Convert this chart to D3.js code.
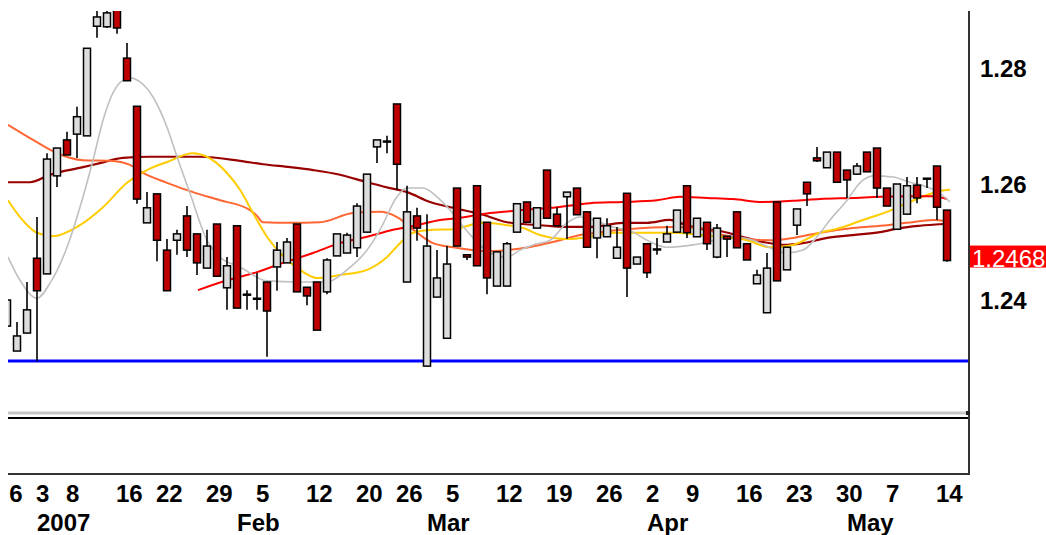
<!DOCTYPE html>
<html>
<head>
<meta charset="utf-8">
<script src="https://cdn.jsdelivr.net/npm/d3@7"></script>
<style>
  body { margin: 0; background: #fff; }
  svg { display: block; }
  text { font-family: "Liberation Sans", Arial, sans-serif; }
</style>
</head>
<body>
<div id="chart"></div>
<script>
// trading days shown on the chart
const dates = [
  "2006-12-26","2006-12-27","2006-12-28","2006-12-29","2007-01-03","2007-01-04","2007-01-05",
  "2007-01-08","2007-01-09","2007-01-10","2007-01-11","2007-01-12","2007-01-16","2007-01-17",
  "2007-01-18","2007-01-19","2007-01-22","2007-01-23","2007-01-24","2007-01-25","2007-01-26",
  "2007-01-29","2007-01-30","2007-01-31","2007-02-01","2007-02-02","2007-02-05","2007-02-06",
  "2007-02-07","2007-02-08","2007-02-09","2007-02-12","2007-02-13","2007-02-14","2007-02-15",
  "2007-02-16","2007-02-20","2007-02-21","2007-02-22","2007-02-23","2007-02-26","2007-02-27",
  "2007-02-28","2007-03-01","2007-03-02","2007-03-05","2007-03-06","2007-03-07","2007-03-08",
  "2007-03-09","2007-03-12","2007-03-13","2007-03-14","2007-03-15","2007-03-16","2007-03-19",
  "2007-03-20","2007-03-21","2007-03-22","2007-03-23","2007-03-26","2007-03-27","2007-03-28",
  "2007-03-29","2007-03-30","2007-04-02","2007-04-03","2007-04-04","2007-04-05","2007-04-09",
  "2007-04-10","2007-04-11","2007-04-12","2007-04-13","2007-04-16","2007-04-17","2007-04-18",
  "2007-04-19","2007-04-20","2007-04-23","2007-04-24","2007-04-25","2007-04-26","2007-04-27",
  "2007-04-30","2007-05-01","2007-05-02","2007-05-03","2007-05-04","2007-05-07","2007-05-08",
  "2007-05-09","2007-05-10","2007-05-11","2007-05-14"
];

const opens = [
  1.2355,1.2312,1.2343,1.2472,1.2445,1.2614,1.2676,1.2686,1.2683,1.2872,1.2871,1.2905,1.2817,1.2734,
  1.2533,1.2583,1.2486,1.2503,1.2545,1.2514,1.2455,1.2531,1.2421,1.2528,1.2410,1.2403,1.2431,1.2457,
  1.2464,1.2531,1.2422,1.2431,1.2414,1.2476,1.2481,1.2490,1.2517,1.2664,1.2674,1.2738,1.2431,1.2545,
  1.2286,1.2405,1.2334,1.2593,1.2478,1.2597,1.2534,1.2424,1.2424,1.2517,1.2569,1.2524,1.2624,1.2548,
  1.2578,1.2593,1.2552,1.2507,1.2509,1.2472,1.2584,1.2462,1.2497,1.2488,1.2500,1.2517,1.2597,1.2509,
  1.2534,1.2474,1.2510,1.2552,1.2497,1.2428,1.2378,1.2569,1.2452,1.2529,1.2603,1.2645,1.2628,1.2655,
  1.2624,1.2617,1.2655,1.2662,1.2593,1.2522,1.2548,1.2598,1.2610,1.2631,1.2555
];
const highs = [
  1.2400,1.2362,1.2431,1.2543,1.2653,1.2662,1.2690,1.2733,1.2834,1.2900,1.2905,1.2915,1.2843,1.2734,
  1.2586,1.2583,1.2505,1.2521,1.2562,1.2514,1.2521,1.2531,1.2474,1.2528,1.2417,1.2447,1.2431,1.2500,
  1.2507,1.2531,1.2422,1.2431,1.2472,1.2514,1.2516,1.2567,1.2617,1.2676,1.2683,1.2738,1.2597,1.2559,
  1.2548,1.2486,1.2493,1.2593,1.2478,1.2597,1.2534,1.2483,1.2500,1.2566,1.2569,1.2559,1.2624,1.2560,
  1.2586,1.2593,1.2552,1.2541,1.2541,1.2526,1.2584,1.2474,1.2497,1.2507,1.2528,1.2555,1.2597,1.2541,
  1.2534,1.2531,1.2510,1.2552,1.2497,1.2452,1.2481,1.2569,1.2491,1.2557,1.2603,1.2664,1.2655,1.2655,
  1.2624,1.2636,1.2655,1.2662,1.2593,1.2600,1.2612,1.2612,1.2610,1.2631,1.2555
];
const lows = [
  1.2353,1.2312,1.2343,1.2295,1.2445,1.2595,1.2650,1.2645,1.2683,1.2852,1.2869,1.2859,1.2778,1.2566,
  1.2533,1.2467,1.2416,1.2478,1.2474,1.2443,1.2455,1.2441,1.2383,1.2386,1.2383,1.2383,1.2302,1.2416,
  1.2464,1.2414,1.2391,1.2348,1.2410,1.2476,1.2481,1.2474,1.2517,1.2636,1.2653,1.2590,1.2431,1.2502,
  1.2286,1.2405,1.2334,1.2493,1.2469,1.2459,1.2410,1.2424,1.2424,1.2517,1.2534,1.2524,1.2541,1.2528,
  1.2505,1.2547,1.2491,1.2472,1.2509,1.2472,1.2405,1.2462,1.2438,1.2478,1.2500,1.2517,1.2507,1.2509,
  1.2486,1.2472,1.2474,1.2490,1.2469,1.2428,1.2378,1.2433,1.2452,1.2512,1.2562,1.2638,1.2628,1.2603,
  1.2576,1.2616,1.2621,1.2576,1.2562,1.2522,1.2548,1.2567,1.2593,1.2538,1.2466
];
const closes = [
  1.2400,1.2338,1.2383,1.2416,1.2643,1.2662,1.2650,1.2716,1.2834,1.2888,1.2895,1.2869,1.2778,1.2574,
  1.2559,1.2503,1.2416,1.2514,1.2486,1.2464,1.2493,1.2441,1.2459,1.2386,1.2410,1.2403,1.2381,1.2486,
  1.2500,1.2414,1.2407,1.2348,1.2469,1.2514,1.2512,1.2562,1.2617,1.2676,1.2674,1.2634,1.2552,1.2524,
  1.2493,1.2438,1.2462,1.2493,1.2474,1.2459,1.2438,1.2483,1.2497,1.2566,1.2534,1.2559,1.2541,1.2528,
  1.2586,1.2547,1.2491,1.2541,1.2528,1.2491,1.2455,1.2474,1.2447,1.2488,1.2514,1.2555,1.2516,1.2541,
  1.2497,1.2524,1.2505,1.2490,1.2469,1.2443,1.2455,1.2433,1.2491,1.2557,1.2583,1.2640,1.2655,1.2603,
  1.2607,1.2631,1.2621,1.2593,1.2562,1.2600,1.2597,1.2576,1.2610,1.2560,1.2468
];

// average lines as [day index, price]
const maGray = [
  [0.1,1.2474],[1.3,1.2434],[3.0,1.2403],[4.3,1.2429],[6.0,1.2491],[7.3,1.2560],[8.6,1.2641],
  [9.6,1.2710],[10.6,1.2757],[11.6,1.2779],[12.3,1.2783],[13.3,1.2776],[14.6,1.2750],[16.0,1.2698],
  [17.0,1.2647],[18.3,1.2584],[20.0,1.2503],[21.3,1.2474],[23.3,1.2457],[26.0,1.2433],[29.3,1.2431],
  [32.0,1.2431],[34.0,1.2452],[36.0,1.2486],[37.3,1.2521],[39.0,1.2578],[40.0,1.2593],[41.6,1.2593],
  [43.0,1.2578],[44.3,1.2555],[45.3,1.2533],[47.0,1.2500],[48.3,1.2481],[50.0,1.2474],[51.3,1.2486],
  [52.6,1.2495],[54.3,1.2503],[56.0,1.2533],[57.3,1.2543],[58.6,1.2538],[60.6,1.2526],[62.6,1.2517],
  [64.0,1.2503],[66.0,1.2491],[68.6,1.2495],[70.6,1.2502],[72.6,1.2509],[74.6,1.2503],[76.3,1.2490],
  [78.0,1.2481],[79.6,1.2486],[81.0,1.2509],[82.3,1.2538],[84.0,1.2572],[85.3,1.2602],[86.6,1.2614],
  [88.6,1.2612],[90.3,1.2603],[92.0,1.2595],[93.3,1.2584],[94.3,1.2569]
];
const maYellow = [
  [0.1,1.2572],[1.3,1.2543],[3.0,1.2516],[4.6,1.2510],[7.0,1.2526],[9.6,1.2560],[12.0,1.2602],
  [14.0,1.2624],[16.0,1.2638],[18.6,1.2653],[20.0,1.2647],[22.0,1.2619],[23.3,1.2590],[24.6,1.2550],
  [26.0,1.2509],[27.3,1.2481],[29.3,1.2452],[31.0,1.2438],[33.3,1.2443],[36.0,1.2452],[38.0,1.2474],
  [39.3,1.2498],[40.6,1.2516],[42.6,1.2521],[44.6,1.2522],[47.6,1.2533],[50.0,1.2529],[51.6,1.2524],
  [53.3,1.2512],[56.0,1.2505],[58.3,1.2509],[60.6,1.2516],[63.3,1.2516],[66.6,1.2516],[69.3,1.2512],
  [71.3,1.2509],[74.0,1.2503],[76.3,1.2491],[78.6,1.2495],[81.3,1.2516],[83.3,1.2524],[85.6,1.2538],
  [88.0,1.2552],[90.0,1.2567],[92.0,1.2581],[93.3,1.2588],[94.3,1.2590]
];
const maOrange = [
  [0.1,1.2702],[2.6,1.2676],[5.0,1.2653],[7.6,1.2641],[10.3,1.2640],[12.3,1.2633],[13.6,1.2619],
  [16.0,1.2602],[18.6,1.2586],[21.3,1.2572],[24.3,1.2555],[25.0,1.2545],[25.6,1.2534],[28.3,1.2533],
  [31.3,1.2534],[34.6,1.2550],[37.3,1.2552],[39.0,1.2543],[41.0,1.2516],[42.6,1.2498],[44.6,1.2491],
  [48.3,1.2484],[51.0,1.2488],[53.3,1.2495],[55.3,1.2503],[57.3,1.2512],[59.3,1.2517],[62.0,1.2522],
  [66.6,1.2526],[69.3,1.2524],[71.6,1.2512],[74.0,1.2505],[76.3,1.2503],[78.6,1.2507],[81.3,1.2516],
  [84.6,1.2524],[88.0,1.2529],[90.0,1.2533],[92.6,1.2538],[94.0,1.2536]
];
const maRed = [
  [19.1,1.2417],[22.0,1.2434],[25.0,1.2448],[27.6,1.2464],[30.6,1.2481],[33.3,1.2498],[36.0,1.2509],
  [38.6,1.2521],[41.0,1.2529],[43.3,1.2538],[45.0,1.2541],[48.3,1.2550],[51.6,1.2555],[55.0,1.2560],
  [58.3,1.2567],[61.6,1.2569],[65.0,1.2572],[67.3,1.2578],[70.0,1.2576],[72.6,1.2574],[75.6,1.2569],
  [78.6,1.2571],[81.3,1.2574],[84.6,1.2576],[87.3,1.2578],[90.0,1.2579],[92.6,1.2579],[94.0,1.2574]
];
const maMaroon = [
  [0.1,1.2603],[2.3,1.2603],[4.3,1.2616],[7.6,1.2629],[9.3,1.2636],[11.6,1.2645],[14.3,1.2647],
  [19.3,1.2647],[23.3,1.2640],[25.6,1.2634],[28.3,1.2629],[30.6,1.2624],[33.3,1.2616],[36.0,1.2603],
  [38.3,1.2593],[40.0,1.2586],[42.3,1.2569],[44.6,1.2559],[47.6,1.2547],[50.0,1.2534],[51.6,1.2531],
  [54.0,1.2528],[56.6,1.2526],[58.3,1.2526],[61.6,1.2533],[64.0,1.2533],[66.3,1.2538],[67.3,1.2533],
  [68.6,1.2526],[70.0,1.2521],[71.3,1.2519],[73.3,1.2510],[75.6,1.2500],[78.0,1.2495],[79.6,1.2498],
  [82.0,1.2507],[84.6,1.2512],[87.3,1.2517],[89.3,1.2524],[91.3,1.2528],[93.6,1.2531]
];

const supportLevel = 1.2295;
const priceTicks = [1.24, 1.26, 1.28];
const dayTicks = [
  "2006-12-26","2007-01-03","2007-01-08","2007-01-16","2007-01-22","2007-01-29","2007-02-05",
  "2007-02-12","2007-02-20","2007-02-26","2007-03-05","2007-03-12","2007-03-19","2007-03-26",
  "2007-04-02","2007-04-09","2007-04-16","2007-04-23","2007-04-30","2007-05-07","2007-05-14"
];
const monthTicks = ["2007-01-03","2007-02-01","2007-03-01","2007-04-02","2007-05-01"];
const monthLabels = ["2007","Feb","Mar","Apr","May"];

const WIDTH = 1046, HEIGHT = 535;
const plot = { left: 8, right: 969, top: 11, bottom: 413 };
const lowerPane = { top: 418, bottom: 474 };

const svg = d3.select("#chart").append("svg")
  .attr("width", WIDTH)
  .attr("height", HEIGHT);

svg.append("rect").attr("width", WIDTH).attr("height", HEIGHT).attr("fill", "#fff");

const x = d3.scaleLinear().domain([0, dates.length - 1]).range([7, 947]);
const y = d3.scaleLinear().domain([1.24, 1.28]).range([300, 68]);
const dayIndex = d => dates.indexOf(d);

const defs = svg.append("defs");
defs.append("clipPath").attr("id", "plotClip")
  .append("rect")
  .attr("x", plot.left).attr("y", plot.top)
  .attr("width", plot.right - plot.left).attr("height", plot.bottom - plot.top);
defs.append("clipPath").attr("id", "labelClip")
  .append("rect")
  .attr("x", 9).attr("y", 0)
  .attr("width", WIDTH - 9).attr("height", HEIGHT);

const plotG = svg.append("g").attr("clip-path", "url(#plotClip)");

// support line
plotG.append("line")
  .attr("x1", plot.left).attr("x2", plot.right)
  .attr("y1", y(supportLevel)).attr("y2", y(supportLevel))
  .attr("stroke", "#0000ff")
  .attr("stroke-width", 3);

// moving averages
const line = d3.line()
  .curve(d3.curveMonotoneX)
  .x(d => x(d[0]))
  .y(d => y(d[1]));

const averages = [
  { data: maMaroon, color: "#990000", width: 2.2 },
  { data: maOrange, color: "#ff6633", width: 2 },
  { data: maYellow, color: "#ffcc00", width: 2 },
  { data: maRed, color: "#ff0000", width: 2 },
  { data: maGray, color: "#c0c0c0", width: 1.6 }
];

plotG.append("g")
  .selectAll("path")
  .data(averages)
  .join("path")
  .attr("d", d => line(d.data))
  .attr("fill", "none")
  .attr("stroke", d => d.color)
  .attr("stroke-width", d => d.width);

// candles
const candles = dates.map((d, i) => ({
  i: i, open: opens[i], high: highs[i], low: lows[i], close: closes[i]
}));

const candleG = plotG.append("g")
  .selectAll("g")
  .data(candles)
  .join("g");

candleG.append("line")
  .attr("x1", d => x(d.i)).attr("x2", d => x(d.i))
  .attr("y1", d => y(d.high)).attr("y2", d => y(d.low))
  .attr("stroke", "#000")
  .attr("stroke-width", 1.6);

candleG.append("rect")
  .attr("x", d => x(d.i) - 3.5)
  .attr("width", 7)
  .attr("y", d => y(Math.max(d.open, d.close)))
  .attr("height", d => Math.max(1, Math.abs(y(d.open) - y(d.close))))
  .attr("fill", d => d.close >= d.open ? "#dcdcdc" : "#c00000")
  .attr("stroke", "#000")
  .attr("stroke-width", 1.5);

// pane frame
svg.append("line")
  .attr("x1", plot.left).attr("x2", plot.right)
  .attr("y1", plot.bottom).attr("y2", plot.bottom)
  .attr("stroke", "#c8c8c8").attr("stroke-width", 3);
svg.append("line")
  .attr("x1", plot.left).attr("x2", plot.right)
  .attr("y1", lowerPane.top).attr("y2", lowerPane.top)
  .attr("stroke", "#000").attr("stroke-width", 2);
svg.append("line")
  .attr("x1", plot.left).attr("x2", plot.right + 1)
  .attr("y1", lowerPane.bottom).attr("y2", lowerPane.bottom)
  .attr("stroke", "#333").attr("stroke-width", 2);
svg.append("line")
  .attr("x1", plot.right).attr("x2", plot.right)
  .attr("y1", plot.top).attr("y2", lowerPane.bottom + 1)
  .attr("stroke", "#333").attr("stroke-width", 2);
svg.append("rect")
  .attr("x", plot.right - 3).attr("y", plot.bottom - 2)
  .attr("width", 4).attr("height", 4)
  .attr("fill", "#222");

// price axis
svg.append("g")
  .selectAll("text")
  .data(priceTicks)
  .join("text")
  .attr("x", 980)
  .attr("y", d => y(d) + 9)
  .attr("font-size", 24)
  .attr("font-weight", "bold")
  .attr("fill", "#000")
  .text(d => d3.format(".2f")(d));

// last price marker
const lastClose = closes[closes.length - 1];
svg.append("rect")
  .attr("x", 970).attr("y", y(lastClose) - 15)
  .attr("width", 80).attr("height", 22)
  .attr("fill", "#ff0000");
svg.append("text")
  .attr("x", 972)
  .attr("y", y(lastClose) + 6)
  .attr("font-size", 24)
  .attr("fill", "#fff")
  .text(d3.format(".4f")(lastClose));

// date axis
const fmtDay = d3.timeFormat("%-d");
const parse = d3.timeParse("%Y-%m-%d");
const dateAxis = svg.append("g").attr("clip-path", "url(#labelClip)");

dateAxis.selectAll("text.day")
  .data(dayTicks)
  .join("text")
  .attr("class", "day")
  .attr("x", d => x(dayIndex(d)) - 11)
  .attr("y", 502)
  .attr("font-size", 24)
  .attr("font-weight", "bold")
  .attr("fill", "#000")
  .text(d => fmtDay(parse(d)));

dateAxis.selectAll("text.month")
  .data(monthTicks)
  .join("text")
  .attr("class", "month")
  .attr("x", d => x(dayIndex(d)) - 10)
  .attr("y", 531)
  .attr("font-size", 24)
  .attr("font-weight", "bold")
  .attr("fill", "#000")
  .text((d, i) => monthLabels[i]);
</script>
</body>
</html>
